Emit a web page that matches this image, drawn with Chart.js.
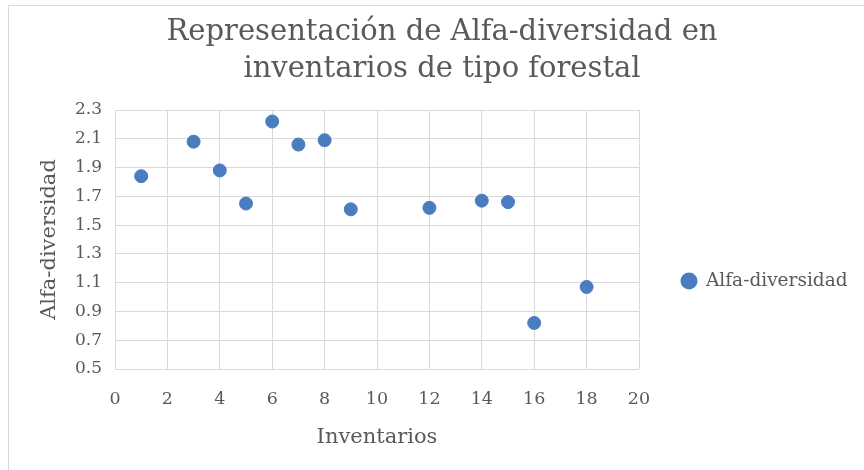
<!DOCTYPE html>
<html>
<head>
<meta charset="utf-8">
<script src="https://cdn.jsdelivr.net/npm/chart.js@4/dist/chart.umd.min.js"></script>
<style>
  html, body { margin: 0; padding: 0; background: #fff; }
  #wrap { width: 864px; height: 470px; }
</style>
</head>
<body>
<div id="wrap"><canvas id="c" width="864" height="470"></canvas></div>
<script>
// Inventory number and its alpha-diversity value
const inventarios = [1, 3, 4, 5, 6, 7, 8, 9, 12, 14, 15, 16, 18];
const alfaDiversidad = [1.84, 2.08, 1.88, 1.65, 2.22, 2.06, 2.09, 1.61, 1.62, 1.67, 1.66, 0.82, 1.07];
const titleLines = ['Representación de Alfa-diversidad en', 'inventarios de tipo forestal'];
const seriesName = 'Alfa-diversidad';
const xTitle = 'Inventarios';
const yTitle = 'Alfa-diversidad';

const FONT = '"DejaVu Serif", serif';
const TEXT = '#595959';
const GRID = '#d9d9d9';
const BLUE = '#4a7dbf';

const points = inventarios.map((x, i) => ({ x, y: alfaDiversidad[i] }));

// Frame, two-line title and the side legend
const decor = {
  id: 'decor',
  beforeDraw(chart) {
    const ctx = chart.ctx;
    ctx.save();
    ctx.strokeStyle = GRID;
    ctx.lineWidth = 1;
    ctx.beginPath();
    ctx.moveTo(8.5, 470);
    ctx.lineTo(8.5, 5.5);
    ctx.lineTo(864, 5.5);
    ctx.stroke();
    ctx.restore();
  },
  afterDraw(chart) {
    const ctx = chart.ctx;
    ctx.save();
    ctx.fillStyle = TEXT;
    ctx.textAlign = 'center';
    ctx.textBaseline = 'alphabetic';
    ctx.font = '29px ' + FONT;
    ctx.fillText(titleLines[0], 442, 40);
    ctx.fillText(titleLines[1], 442, 77);

    const ds = chart.data.datasets[0];
    ctx.fillStyle = ds.backgroundColor;
    ctx.beginPath();
    ctx.arc(689, 281, 8.5, 0, Math.PI * 2);
    ctx.fill();
    ctx.fillStyle = TEXT;
    ctx.textAlign = 'left';
    ctx.textBaseline = 'middle';
    ctx.font = '18.5px ' + FONT;
    ctx.fillText(ds.label, 706, 281);
    ctx.restore();
  }
};

new Chart(document.getElementById('c'), {
  type: 'scatter',
  data: {
    datasets: [{
      label: seriesName,
      data: points,
      backgroundColor: BLUE,
      borderColor: BLUE,
      pointRadius: 6.5,
      pointHoverRadius: 6.5
    }]
  },
  options: {
    responsive: false,
    animation: false,
    layout: { padding: { top: 110, right: 225, left: 0, bottom: 0 } },
    plugins: {
      legend: { display: false },
      title: { display: false },
      tooltip: { enabled: false }
    },
    scales: {
      x: {
        type: 'linear',
        min: 0,
        max: 20,
        ticks: { stepSize: 2, color: TEXT, font: { family: FONT, size: 17.5 }, padding: 20 },
        grid: { color: GRID, drawTicks: false },
        border: { display: false },
        title: { display: true, text: xTitle, color: TEXT, font: { family: FONT, size: 21 }, padding: { top: 0, bottom: 20 } },
        afterFit(s) { s.height = 101; }
      },
      y: {
        type: 'linear',
        min: 0.5,
        max: 2.3,
        ticks: { stepSize: 0.2, color: TEXT, font: { family: FONT, size: 17 }, padding: 13,
                 callback: v => Number(v).toFixed(1) },
        grid: { color: GRID, drawTicks: false },
        border: { display: false },
        title: { display: true, text: yTitle, color: TEXT, font: { family: FONT, size: 21 }, padding: { top: 37, bottom: 0 } },
        afterFit(s) { s.width = 115; }
      }
    }
  },
  plugins: [decor]
});
</script>
</body>
</html>
